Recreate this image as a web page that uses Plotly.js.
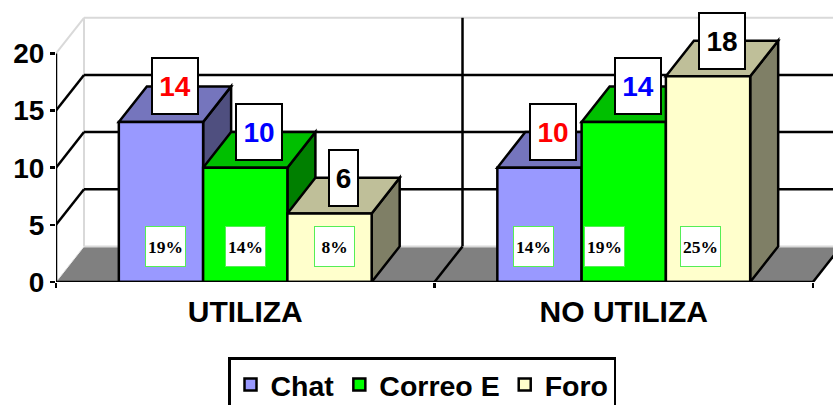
<!DOCTYPE html>
<html>
<head>
<meta charset="utf-8">
<script src="https://cdn.plot.ly/plotly-3.0.1.min.js"></script>
<style>html,body{margin:0;padding:0;background:#fff;overflow:hidden}</style>
</head>
<body>
<div id="chart" style="width:833px;height:405px"></div>
<script>
// ---- data ----
const categories = ["UTILIZA", "NO UTILIZA"];
const seriesNames = ["Chat", "Correo E", "Foro"];
const chat = [14, 10];
const correo = [10, 14];
const foro = [6, 18];
const chatPct = ["19%", "14%"];
const correoPct = ["14%", "19%"];
const foroPct = ["8%", "25%"];
const yTicks = [0, 5, 10, 15, 20];
const wallGrid = [5, 10, 15];

// ---- styles ----
const FRONT = ["#9999ff", "#00ff00", "#ffffcc"];
const TOP = ["#7575bd", "#00bf00", "#bfbf99"];
const SIDE = ["#4f4f7f", "#007f00", "#7f7f66"];
const VALUE_COLOR = ["#ff0000", "#0000ff", "#000000"];
const SANS = "Liberation Sans, Arial, sans-serif";
const SERIF = "Liberation Serif, Times New Roman, serif";
const BARGAP = 0.332;
const DX = 0.074, DY = 3.115;          // oblique depth of the 3-D box, in axis units
const PCT_Y = 3.1;
const pctShift = [[0.012, -0.017], [0, -0.052], [0.012, -0.019]]; // label nudge, axis units
const LW = 2.5;

const values = [chat, correo, foro];
const pcts = [chatPct, correoPct, foroPct];
const barW = (1 - BARGAP) / 3;
const xs = categories.map((_, i) => i);

const poly = (pts, fill, line, width, layer) => ({
  type: "path", xref: "x", yref: "y", layer: layer || "below",
  path: "M" + pts.map(p => p[0] + "," + p[1]).join("L") + "Z",
  fillcolor: fill, line: {color: line, width: width === undefined ? LW : width}
});
const seg = (x0, y0, x1, y1, color, width) => ({
  type: "line", xref: "x", yref: "y", layer: "below", x0, y0, x1, y1,
  line: {color, width}
});

const L = -0.5, M = 0.5, R = 1.5, YMAX = yTicks[yTicks.length - 1];
const shapes = [];
// floor
shapes.push(poly([[L,0],[L+DX,DY],[R+DX,DY],[R,0]], "#808080", "#808080", 0));
// walls
shapes.push(seg(L+DX, DY, R+DX, DY, "#d9d9d9", 2));
shapes.push(seg(L+DX, YMAX+DY, R+DX, YMAX+DY, "#d9d9d9", 2));
shapes.push(seg(L+DX, DY, L+DX, YMAX+DY, "#d9d9d9", 2));
shapes.push(seg(L, YMAX, L+DX, YMAX+DY, "#d9d9d9", 2));
shapes.push(seg(L, 0, L+DX, DY, "#e8e8e8", 1));
// grid
wallGrid.forEach(v => {
  shapes.push(seg(L, v, L+DX, v+DY, "#000", LW));
  shapes.push(seg(L+DX, v+DY, R+DX, v+DY, "#000", LW));
});
shapes.push(seg(M+DX, DY, M+DX, YMAX+DY, "#000", LW));
shapes.push(seg(M, 0, M+DX, DY, "#000", LW));
shapes.push(seg(R, 0, R+DX, DY, "#000", LW));
// oblique faces, painted left to right
xs.forEach(xi => {
  values.forEach((vals, s) => {
    const x0 = xi + (s - 1.5) * barW, x1 = x0 + barW, v = vals[xi];
    shapes.push(poly([[x1,0],[x1+DX,DY],[x1+DX,v+DY],[x1,v]], SIDE[s], "#000"));
    shapes.push(poly([[x0,v],[x0+DX,v+DY],[x1+DX,v+DY],[x1,v]], TOP[s], "#000"));
  });
});
// axis lines
shapes.push({type:"line", xref:"x", yref:"y", layer:"above", x0:L, x1:R, y0:0, y1:0, line:{color:"#000", width:LW}});
shapes.push({type:"line", xref:"x", yref:"y", layer:"above", x0:L, x1:L, y0:0, y1:YMAX, line:{color:"#000", width:LW}});

const annotations = [];
xs.forEach(xi => {
  values.forEach((vals, s) => {
    const c = xi + (s - 1) * barW, v = vals[xi];
    annotations.push({
      x: c + DX / 2, y: v + DY, xref: "x", yref: "y", showarrow: false,
      text: String(v), font: {family: SANS, size: 28, weight: "bold", color: VALUE_COLOR[s]},
      bgcolor: "#fff", bordercolor: "#000", borderwidth: 2, borderpad: 0,
      width: v < 10 ? 27 : 44, height: 54, align: "center", valign: "middle",
      xanchor: "center", yanchor: "middle"
    });
    annotations.push({
      x: c + pctShift[s][xi], y: PCT_Y, xref: "x", yref: "y", showarrow: false,
      text: pcts[s][xi], font: {family: SERIF, size: 17.5, weight: "bold", color: "#000"},
      bgcolor: "#fff", bordercolor: "#55ee55", borderwidth: 1, borderpad: 0,
      width: 39, height: 39, align: "center", valign: "middle",
      xanchor: "center", yanchor: "middle"
    });
  });
});

const traces = values.map((vals, s) => ({
  type: "bar", name: seriesNames[s], x: xs, y: vals,
  marker: {color: FRONT[s], line: {color: "#000", width: LW}},
  hoverinfo: "x+y+name"
}));

const layout = {
  width: 833, height: 405, autosize: false,
  margin: {l: 56, r: 0, t: 0, b: 123, pad: 0},
  paper_bgcolor: "#fff", plot_bgcolor: "rgba(0,0,0,0)",
  barmode: "group", bargap: BARGAP, bargroupgap: 0,
  font: {family: SANS, color: "#000"},
  xaxis: {
    type: "linear", range: [L, L + 777 / 378.5], tickmode: "array",
    tickvals: xs, ticktext: categories, ticks: "", showgrid: false, zeroline: false, showline: false,
    tickfont: {family: SANS, size: 30, weight: "bold", color: "#000"}, ticklabelstandoff: 9,
    minor: {tickmode: "array", tickvals: [L, M, R], ticks: "outside", ticklen: 5, tickwidth: 2.5, tickcolor: "#000", showgrid: false}
  },
  yaxis: {
    range: [0, 282 / 11.43], tickmode: "array", tickvals: yTicks, ticks: "outside",
    ticklen: 5, tickwidth: 2.5, tickcolor: "#000", showgrid: false, zeroline: false, showline: false,
    tickfont: {family: SANS, size: 28, weight: "bold", color: "#000"}
  },
  showlegend: true,
  legend: {
    orientation: "h", xref: "container", yref: "container",
    x: 228 / 833, xanchor: "left", y: 1 - 357 / 405, yanchor: "top",
    font: {family: SANS, size: 28.5, weight: "bold", color: "#000"},
    bordercolor: "#000", borderwidth: 2.5, bgcolor: "#fff", traceorder: "normal"
  },
  shapes, annotations
};
Plotly.newPlot("chart", traces, layout, {displayModeBar: false, staticPlot: true});
</script>
</body>
</html>
